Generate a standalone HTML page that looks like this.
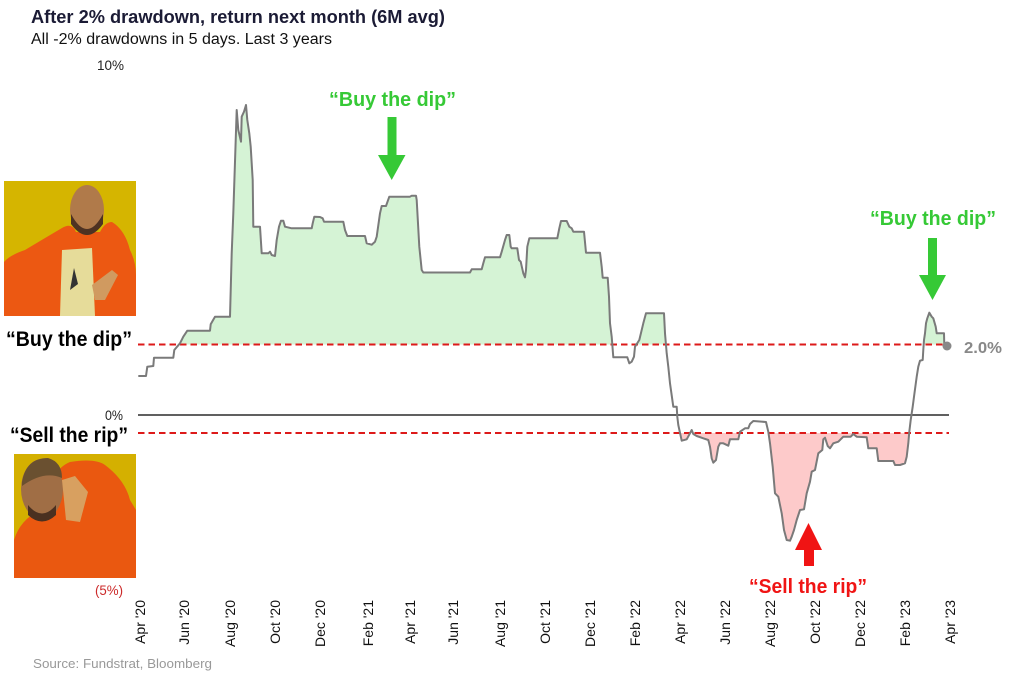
<!DOCTYPE html>
<html><head><meta charset="utf-8"><style>
html,body{margin:0;padding:0;background:#fff;}
svg{display:block;font-family:"Liberation Sans",Arial,sans-serif;}
</style></head><body>
<svg width="1014" height="690" viewBox="0 0 1014 690" xmlns="http://www.w3.org/2000/svg">
<defs>
<clipPath id="above"><rect x="0" y="0" width="1014" height="344.5"/></clipPath>
<clipPath id="below"><rect x="0" y="433" width="1014" height="260"/></clipPath>
</defs>

<!-- Title -->
<text x="31" y="23" font-size="18" font-weight="bold" fill="#1b1b35" textLength="414" lengthAdjust="spacingAndGlyphs">After 2% drawdown, return next month (6M avg)</text>
<text x="31" y="44" font-size="15.5" fill="#111" textLength="301" lengthAdjust="spacingAndGlyphs">All -2% drawdowns in 5 days. Last 3 years</text>

<!-- Y labels -->
<text x="97" y="70" font-size="14" fill="#222" textLength="27" lengthAdjust="spacingAndGlyphs">10%</text>
<text x="105" y="420" font-size="14" fill="#222" textLength="18" lengthAdjust="spacingAndGlyphs">0%</text>
<text x="95" y="595" font-size="14" fill="#cc2a2a" textLength="28" lengthAdjust="spacingAndGlyphs">(5%)</text>

<!-- Drake top -->
<g>
<rect x="4" y="181" width="132" height="135" fill="#d5b500"/>
<path d="M4 316 L4 262 Q10 255 25 250 Q45 238 62 228 Q72 222 76 232 L100 232 Q105 222 112 222 Q125 230 130 250 Q136 262 136 275 L136 316 Z" fill="#ec5812"/>
<polygon points="62,250 92,248 95,316 60,316" fill="#e6dc9a"/>
<path d="M74 268 L78 284 L70 290 Z" fill="#333"/>
<ellipse cx="87" cy="210" rx="17" ry="25" fill="#b07a4a"/>
<path d="M71 214 Q87 244 103 214 L103 224 Q87 246 71 224 Z" fill="#4e3222"/>
<polygon points="92,285 112,270 118,275 105,300 95,300" fill="#d09a60"/>
</g>

<!-- Drake bottom -->
<g>
<rect x="14" y="454" width="122" height="124" fill="#d4b000"/>
<path d="M14 578 L14 540 Q20 520 40 510 Q50 470 70 462 Q95 458 105 465 Q125 480 130 500 L136 510 L136 578 Z" fill="#ea5810"/>
<ellipse cx="42" cy="489" rx="21" ry="30" fill="#a06e45"/>
<path d="M22 482 Q26 458 48 458 Q62 462 62 478 Q44 470 22 486 Z" fill="#6a5030"/>
<path d="M28 505 Q42 522 56 505 L56 515 Q42 528 28 515 Z" fill="#4a3020"/>
<polygon points="62,480 75,476 88,492 80,522 66,520" fill="#d8a060"/>
</g>

<!-- Left labels -->
<text x="6" y="346" font-size="21" font-weight="bold" fill="#000" textLength="126" lengthAdjust="spacingAndGlyphs">“Buy the dip”</text>
<text x="10" y="442" font-size="21" font-weight="bold" fill="#000" textLength="118" lengthAdjust="spacingAndGlyphs">“Sell the rip”</text>

<!-- Fills -->
<g id="fills">
<polygon clip-path="url(#above)" fill="#d5f3d5" points="138.3,344.5 138.3,376 146,376 147.3,366.7 153.3,366 154,357.7 173.3,357.7 174.3,350 180,343.3 183.3,336.7 187.3,330.7 210,330.7 210.7,324.3 215,316.7 230,316.7 231.7,253.3 233.3,213.3 236.7,110 238.3,130 241,141.7 241.7,116.7 244,111.7 246,105 247.3,120 249.3,133.3 250.7,146.7 252.7,180 253.3,226.7 260,226.7 261.7,253.3 268.3,253.3 270,251.7 271.7,255 275,256 276.7,240 279,226.7 281,220.7 283.3,220.7 285,226.7 291.7,228.3 311.7,228.3 312.7,223.3 314.3,216.7 320,217 322.7,218.3 324,221.7 343.3,221.7 345,230 347.3,236 365,236 366.7,243.3 371.7,244.7 375,241.7 376.7,236.7 380,213.3 381.7,206 386,206 389.3,196.7 410,196.7 411.7,195.7 416,195.7 416.7,200 419.3,246.7 421.7,270 423.3,272.5 470,272.5 471.7,269.3 481.7,269.3 483.3,263.3 485,257.3 500,257.3 501.7,251.7 505,240 506.7,235 509.3,235 510.7,246.7 511.7,248.3 517.3,248.3 519,260 520.7,261.7 523.3,273.3 525,277.3 526,270 527.3,246.7 529.3,238.3 557.3,238.3 559.3,228.3 561,221 566.7,221 569.3,226.7 571.7,228.3 573.3,231.7 584,231.7 586,252.7 600,252.7 601.7,266.7 602.7,277.7 607.7,277.7 609,296.7 610,323.3 611.7,336.7 613.3,357.3 627.3,357.3 629.3,363.3 631.7,361.7 634,356.7 635,346.7 639.3,340 643.3,323.3 646,313.3 664,313.3 665,333.3 666.7,353.3 668.3,366.7 670,383.3 673.3,406.7 676.7,406.7 677.3,416.7 678.3,425 681.7,440.7 686.7,439.3 690,433.3 691.7,430 693.3,434 696.7,436 703.3,438.3 708.3,440 710,446.7 711.7,458.3 713.3,462.7 716,460 718.3,446.7 720,443.3 723.3,443.3 728.3,445.7 730,439.3 738.3,439.3 740,431.7 745,428.3 748.3,428.3 750,424 753.3,421 766,422 768.3,431.7 770,443.3 772.7,466.7 775,493.3 778.3,496.7 781.7,513.3 784,530 786.7,540 790,540.7 791.7,536.7 794,530 796.7,520 800,510 804,509.3 806.7,493.3 810,481.7 811.7,471.7 815,470 818.3,453.3 822.3,450 823.3,439.3 825,437.7 827.7,446 830,448.3 833.3,443.3 838.3,441.7 843.3,436.7 850.7,436.7 853.3,434 856.7,436.7 866.7,437.3 868.3,448.3 876.7,448.3 878.3,461 893.3,461 895,465 900,465 905,463.3 906.7,456.7 908.3,443.3 909.3,431.7 910.7,420 912.7,406.7 914,396.7 916.7,376.7 918.3,366.7 920,360.7 922.7,360 923.3,350 924,340 925,333.3 926,323.3 927.3,318.3 929.3,312.7 931.7,316.7 933.3,318.3 935.7,326.7 936.7,333.3 944,333.3 944.3,346 944.3,344.5"/>
<polygon clip-path="url(#below)" fill="#fdcaca" points="138.3,433 138.3,376 146,376 147.3,366.7 153.3,366 154,357.7 173.3,357.7 174.3,350 180,343.3 183.3,336.7 187.3,330.7 210,330.7 210.7,324.3 215,316.7 230,316.7 231.7,253.3 233.3,213.3 236.7,110 238.3,130 241,141.7 241.7,116.7 244,111.7 246,105 247.3,120 249.3,133.3 250.7,146.7 252.7,180 253.3,226.7 260,226.7 261.7,253.3 268.3,253.3 270,251.7 271.7,255 275,256 276.7,240 279,226.7 281,220.7 283.3,220.7 285,226.7 291.7,228.3 311.7,228.3 312.7,223.3 314.3,216.7 320,217 322.7,218.3 324,221.7 343.3,221.7 345,230 347.3,236 365,236 366.7,243.3 371.7,244.7 375,241.7 376.7,236.7 380,213.3 381.7,206 386,206 389.3,196.7 410,196.7 411.7,195.7 416,195.7 416.7,200 419.3,246.7 421.7,270 423.3,272.5 470,272.5 471.7,269.3 481.7,269.3 483.3,263.3 485,257.3 500,257.3 501.7,251.7 505,240 506.7,235 509.3,235 510.7,246.7 511.7,248.3 517.3,248.3 519,260 520.7,261.7 523.3,273.3 525,277.3 526,270 527.3,246.7 529.3,238.3 557.3,238.3 559.3,228.3 561,221 566.7,221 569.3,226.7 571.7,228.3 573.3,231.7 584,231.7 586,252.7 600,252.7 601.7,266.7 602.7,277.7 607.7,277.7 609,296.7 610,323.3 611.7,336.7 613.3,357.3 627.3,357.3 629.3,363.3 631.7,361.7 634,356.7 635,346.7 639.3,340 643.3,323.3 646,313.3 664,313.3 665,333.3 666.7,353.3 668.3,366.7 670,383.3 673.3,406.7 676.7,406.7 677.3,416.7 678.3,425 681.7,440.7 686.7,439.3 690,433.3 691.7,430 693.3,434 696.7,436 703.3,438.3 708.3,440 710,446.7 711.7,458.3 713.3,462.7 716,460 718.3,446.7 720,443.3 723.3,443.3 728.3,445.7 730,439.3 738.3,439.3 740,431.7 745,428.3 748.3,428.3 750,424 753.3,421 766,422 768.3,431.7 770,443.3 772.7,466.7 775,493.3 778.3,496.7 781.7,513.3 784,530 786.7,540 790,540.7 791.7,536.7 794,530 796.7,520 800,510 804,509.3 806.7,493.3 810,481.7 811.7,471.7 815,470 818.3,453.3 822.3,450 823.3,439.3 825,437.7 827.7,446 830,448.3 833.3,443.3 838.3,441.7 843.3,436.7 850.7,436.7 853.3,434 856.7,436.7 866.7,437.3 868.3,448.3 876.7,448.3 878.3,461 893.3,461 895,465 900,465 905,463.3 906.7,456.7 908.3,443.3 909.3,431.7 910.7,420 912.7,406.7 914,396.7 916.7,376.7 918.3,366.7 920,360.7 922.7,360 923.3,350 924,340 925,333.3 926,323.3 927.3,318.3 929.3,312.7 931.7,316.7 933.3,318.3 935.7,326.7 936.7,333.3 944,333.3 944.3,346 944.3,433"/>
</g>

<!-- Zero line -->
<line x1="138" y1="415" x2="949" y2="415" stroke="#000" stroke-width="1.2"/>
<!-- Dashed thresholds -->
<line x1="138" y1="344.5" x2="944" y2="344.5" stroke="#dd1a1a" stroke-width="2" stroke-dasharray="6.5,4"/>
<line x1="138" y1="433" x2="949" y2="433" stroke="#dd1a1a" stroke-width="2" stroke-dasharray="6.5,4"/>

<!-- Series line -->
<polyline fill="none" stroke="#7a7a7a" stroke-width="2" stroke-linejoin="round" points="138.3,376 146,376 147.3,366.7 153.3,366 154,357.7 173.3,357.7 174.3,350 180,343.3 183.3,336.7 187.3,330.7 210,330.7 210.7,324.3 215,316.7 230,316.7 231.7,253.3 233.3,213.3 236.7,110 238.3,130 241,141.7 241.7,116.7 244,111.7 246,105 247.3,120 249.3,133.3 250.7,146.7 252.7,180 253.3,226.7 260,226.7 261.7,253.3 268.3,253.3 270,251.7 271.7,255 275,256 276.7,240 279,226.7 281,220.7 283.3,220.7 285,226.7 291.7,228.3 311.7,228.3 312.7,223.3 314.3,216.7 320,217 322.7,218.3 324,221.7 343.3,221.7 345,230 347.3,236 365,236 366.7,243.3 371.7,244.7 375,241.7 376.7,236.7 380,213.3 381.7,206 386,206 389.3,196.7 410,196.7 411.7,195.7 416,195.7 416.7,200 419.3,246.7 421.7,270 423.3,272.5 470,272.5 471.7,269.3 481.7,269.3 483.3,263.3 485,257.3 500,257.3 501.7,251.7 505,240 506.7,235 509.3,235 510.7,246.7 511.7,248.3 517.3,248.3 519,260 520.7,261.7 523.3,273.3 525,277.3 526,270 527.3,246.7 529.3,238.3 557.3,238.3 559.3,228.3 561,221 566.7,221 569.3,226.7 571.7,228.3 573.3,231.7 584,231.7 586,252.7 600,252.7 601.7,266.7 602.7,277.7 607.7,277.7 609,296.7 610,323.3 611.7,336.7 613.3,357.3 627.3,357.3 629.3,363.3 631.7,361.7 634,356.7 635,346.7 639.3,340 643.3,323.3 646,313.3 664,313.3 665,333.3 666.7,353.3 668.3,366.7 670,383.3 673.3,406.7 676.7,406.7 677.3,416.7 678.3,425 681.7,440.7 686.7,439.3 690,433.3 691.7,430 693.3,434 696.7,436 703.3,438.3 708.3,440 710,446.7 711.7,458.3 713.3,462.7 716,460 718.3,446.7 720,443.3 723.3,443.3 728.3,445.7 730,439.3 738.3,439.3 740,431.7 745,428.3 748.3,428.3 750,424 753.3,421 766,422 768.3,431.7 770,443.3 772.7,466.7 775,493.3 778.3,496.7 781.7,513.3 784,530 786.7,540 790,540.7 791.7,536.7 794,530 796.7,520 800,510 804,509.3 806.7,493.3 810,481.7 811.7,471.7 815,470 818.3,453.3 822.3,450 823.3,439.3 825,437.7 827.7,446 830,448.3 833.3,443.3 838.3,441.7 843.3,436.7 850.7,436.7 853.3,434 856.7,436.7 866.7,437.3 868.3,448.3 876.7,448.3 878.3,461 893.3,461 895,465 900,465 905,463.3 906.7,456.7 908.3,443.3 909.3,431.7 910.7,420 912.7,406.7 914,396.7 916.7,376.7 918.3,366.7 920,360.7 922.7,360 923.3,350 924,340 925,333.3 926,323.3 927.3,318.3 929.3,312.7 931.7,316.7 933.3,318.3 935.7,326.7 936.7,333.3 944,333.3 944.3,346"/>

<!-- End dot & label -->
<circle cx="947" cy="346" r="4.5" fill="#888"/>
<text x="964" y="353" font-size="16" font-weight="bold" fill="#888" textLength="38" lengthAdjust="spacingAndGlyphs">2.0%</text>

<!-- Annotations -->
<text x="329" y="106" font-size="20" font-weight="bold" fill="#36c936" textLength="127" lengthAdjust="spacingAndGlyphs">“Buy the dip”</text>
<rect x="387.5" y="117" width="9" height="39" fill="#36c936"/>
<polygon points="378,155 405.5,155 391.7,180" fill="#36c936"/>

<text x="870" y="225" font-size="20" font-weight="bold" fill="#36c936" textLength="126" lengthAdjust="spacingAndGlyphs">“Buy the dip”</text>
<rect x="928" y="238" width="9" height="38" fill="#36c936"/>
<polygon points="919,275 946,275 932.5,300" fill="#36c936"/>

<polygon points="795,550 822,550 808.5,523" fill="#f01414"/>
<rect x="804" y="549" width="10" height="17" fill="#f01414"/>
<text x="749" y="593" font-size="20" font-weight="bold" fill="#f01414" textLength="118" lengthAdjust="spacingAndGlyphs">“Sell the rip”</text>

<!-- X tick labels -->
<g font-size="14" fill="#111" text-anchor="end">
<text transform="translate(145,600) rotate(-90)">Apr '20</text>
<text transform="translate(189,600) rotate(-90)">Jun '20</text>
<text transform="translate(235,600) rotate(-90)">Aug '20</text>
<text transform="translate(280,600) rotate(-90)">Oct '20</text>
<text transform="translate(325,600) rotate(-90)">Dec '20</text>
<text transform="translate(373,600) rotate(-90)">Feb '21</text>
<text transform="translate(415,600) rotate(-90)">Apr '21</text>
<text transform="translate(458,600) rotate(-90)">Jun '21</text>
<text transform="translate(505,600) rotate(-90)">Aug '21</text>
<text transform="translate(550,600) rotate(-90)">Oct '21</text>
<text transform="translate(595,600) rotate(-90)">Dec '21</text>
<text transform="translate(640,600) rotate(-90)">Feb '22</text>
<text transform="translate(685,600) rotate(-90)">Apr '22</text>
<text transform="translate(730,600) rotate(-90)">Jun '22</text>
<text transform="translate(775,600) rotate(-90)">Aug '22</text>
<text transform="translate(820,600) rotate(-90)">Oct '22</text>
<text transform="translate(865,600) rotate(-90)">Dec '22</text>
<text transform="translate(910,600) rotate(-90)">Feb '23</text>
<text transform="translate(955,600) rotate(-90)">Apr '23</text>
</g>

<!-- Source -->
<text x="33" y="668" font-size="13" fill="#999" textLength="179" lengthAdjust="spacingAndGlyphs">Source: Fundstrat, Bloomberg</text>
</svg>
</body></html>
